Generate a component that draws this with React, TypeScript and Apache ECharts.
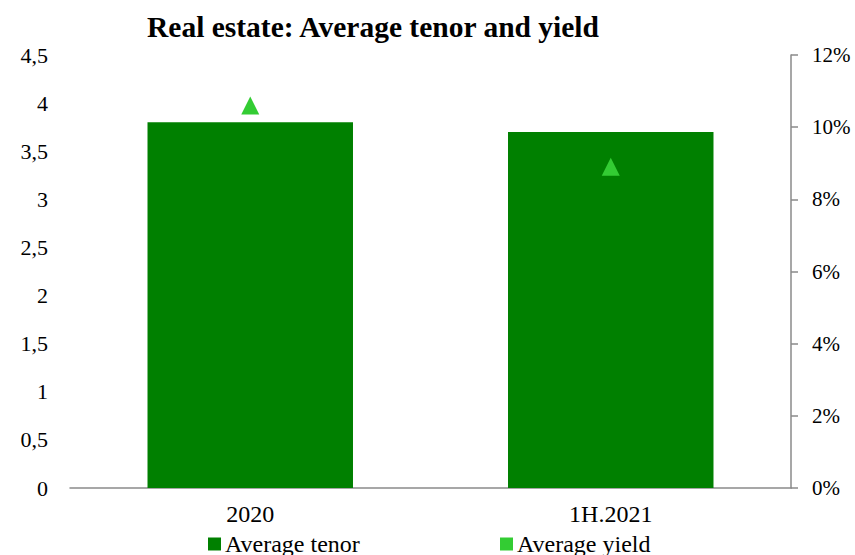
import React, { useEffect, useRef } from "react";
import * as echarts from "echarts";

const categories = ["2020", "1H.2021"];
const averageTenor = [3.8, 3.7];
const averageYield = [10.6, 8.9];
const leftTicks = { min: 0, max: 4.5, interval: 0.5 };
const rightTicks = { min: 0, max: 12, interval: 2 };

const FONT = "'Liberation Serif', 'Times New Roman', serif";

export default function App() {
  const ref = useRef<HTMLDivElement>(null);
  useEffect(() => {
    if (!ref.current) return;
    const chart = echarts.init(ref.current, undefined, { renderer: "svg" });
    const legendText = { fontFamily: FONT, fontSize: 24, color: "#000", padding: [0, 0, 0, -1] };
    chart.setOption({
      animation: false,
      backgroundColor: "#ffffff",
      textStyle: { fontFamily: FONT, color: "#000" },
      title: {
        text: "Real estate: Average tenor and yield",
        left: 147,
        top: 12,
        padding: 0,
        textStyle: { fontFamily: FONT, fontSize: 29.5, fontWeight: "bold", color: "#000" },
      },
      grid: { left: 70, right: 64, top: 55, bottom: 67, containLabel: false },
      legend: [
        {
          data: [{ name: "Average tenor", icon: "rect" }],
          left: 203,
          top: 527,
          itemWidth: 13,
          itemHeight: 13,
          itemGap: 6,
          textStyle: legendText,
        },
        {
          data: [{ name: "Average yield", icon: "rect" }],
          left: 495,
          top: 527,
          itemWidth: 13,
          itemHeight: 13,
          itemGap: 6,
          textStyle: legendText,
        },
      ],
      xAxis: {
        type: "category",
        data: categories,
        axisLine: { show: true, lineStyle: { color: "#8a8a8a", width: 1.5 } },
        axisTick: { show: false },
        axisLabel: { fontFamily: FONT, fontSize: 24, color: "#000", margin: 14 },
      },
      yAxis: [
        {
          type: "value",
          min: leftTicks.min,
          max: leftTicks.max,
          interval: leftTicks.interval,
          splitLine: { show: false },
          axisLine: { show: false },
          axisTick: { show: false },
          axisLabel: {
            fontFamily: FONT,
            fontSize: 22,
            color: "#000",
            margin: 22,
            formatter: (v: number) => String(v).replace(".", ","),
          },
        },
        {
          type: "value",
          position: "right",
          min: rightTicks.min,
          max: rightTicks.max,
          interval: rightTicks.interval,
          splitLine: { show: false },
          axisLine: { show: true, lineStyle: { color: "#8a8a8a", width: 1.5 } },
          axisTick: { show: true, length: 7, lineStyle: { color: "#8a8a8a", width: 1.5 } },
          axisLabel: {
            fontFamily: FONT,
            fontSize: 21,
            color: "#000",
            margin: 21,
            formatter: (v: number) => v + "%",
          },
        },
      ],
      series: [
        {
          name: "Average tenor",
          type: "bar",
          data: averageTenor,
          barWidth: "57%",
          itemStyle: { color: "#008000" },
        },
        {
          name: "Average yield",
          type: "scatter",
          yAxisIndex: 1,
          data: averageYield,
          symbol: "triangle",
          symbolSize: 18,
          itemStyle: { color: "#33cc33", opacity: 1 },
        },
      ],
    });
    return () => chart.dispose();
  }, []);
  return <div ref={ref} style={{ width: 855, height: 555, position: "absolute", left: 0, top: 0 }} />;
}
